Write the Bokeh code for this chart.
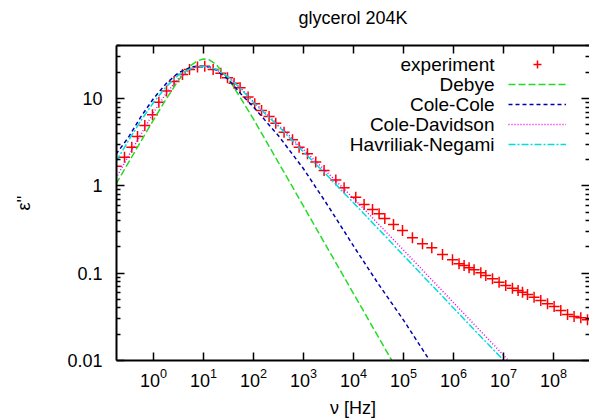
from bokeh.plotting import figure
from bokeh.models import (Range1d, LogAxis, FixedTicker, LogTickFormatter,
                          CustomJSTickFormatter, Legend, LegendItem, Label)
from bokeh.embed import file_html
from bokeh.resources import INLINE

FONT = "Liberation Sans"

# ---------------- data ----------------
exp_freq = [0.180, 0.263, 0.368, 0.479, 0.670, 0.955, 1.28, 1.82, 2.58, 3.80,
            5.25, 7.59, 10.6, 15.6, 22.2, 30.2, 40.9, 54.0, 78.0, 106,
            145, 205, 279, 409, 603, 817, 1200, 1760, 2580, 4430,
            6490, 11100, 16300, 24000, 32500, 42300, 63100, 95500, 151000, 240000,
            368000, 603000, 955000, 1.29e6, 1.63e6, 2.05e6, 2.58e6, 3.52e6, 4.43e6, 6.03e6,
            8.17e6, 1.11e7, 1.51e7, 1.96e7, 2.40e7, 3.02e7, 4.09e7, 5.57e7, 7.59e7, 1.03e8,
            1.40e8, 1.91e8, 2.58e8, 3.52e8, 4.79e8]
exp_eps = [1.68, 2.13, 2.77, 3.68, 4.92, 6.52, 9.09, 12.2, 15.7, 18.9,
           21.5, 22.9, 23.5, 21.5, 19.5, 17.3, 15.0, 13.3, 10.4, 8.71,
           7.30, 6.23, 5.22, 4.12, 3.37, 2.77, 2.33, 1.87, 1.50, 1.17,
           0.951, 0.742, 0.612, 0.537, 0.479, 0.423, 0.361, 0.309, 0.254, 0.217,
           0.196, 0.164, 0.1425, 0.128, 0.1227, 0.1154, 0.1095, 0.1011, 0.0942, 0.0863,
           0.0789, 0.0724, 0.0674, 0.0634, 0.0606, 0.0571, 0.0531, 0.0487, 0.0447, 0.0416,
           0.0374, 0.0337, 0.0319, 0.0309, 0.0293]

debye_freq = [0.178, 0.316, 0.562, 1.0, 1.78, 3.16, 5.62, 7.50, 10.0, 13.3,
              17.8, 31.6, 56.2, 100, 316, 1000, 3160, 1.0e4, 3.16e4, 1.0e5]
debye_eps = [1.05, 1.85, 3.25, 5.7, 9.8, 16.2, 24.0, 27.0, 28.4, 27.6,
             24.6, 16.8, 10.0, 5.8, 1.85, 0.585, 0.185, 0.0585, 0.0185, 0.00585]

cc_freq = [0.178, 0.316, 0.562, 1.0, 1.78, 3.16, 5.62, 7.50, 10.0, 13.3,
           17.8, 31.6, 56.2, 100, 316, 1000, 3160, 1.0e4, 3.16e4, 1.0e5,
           3.16e5, 5.62e5]
cc_eps = [2.3, 3.6, 6.2, 10.0, 14.8, 19.8, 22.9, 23.5, 23.5, 22.8,
          21.3, 16.5, 11.3, 8.0, 3.75, 1.57, 0.58, 0.205, 0.075, 0.029,
          0.0105, 0.0065]

cd_freq = [0.178, 0.316, 0.562, 1.0, 1.78, 3.16, 5.62, 7.50, 10.0, 13.3,
           17.8, 31.6, 56.2, 100, 316, 1000, 3160, 1.0e4, 3.16e4, 1.0e5,
           3.16e5, 1.0e6, 3.16e6, 1.0e7, 1.78e7]
cd_eps = [1.23, 2.2, 3.9, 6.9, 11.4, 17.0, 21.8, 23.0, 23.4, 22.9,
          21.6, 17.7, 13.1, 9.2, 4.95, 2.6, 1.38, 0.72, 0.365, 0.184,
          0.092, 0.046, 0.023, 0.0115, 0.0081]

hn_freq = [0.178, 0.316, 0.562, 1.0, 1.78, 3.16, 5.62, 7.50, 10.0, 13.3,
           17.8, 31.6, 56.2, 100, 316, 1000, 3160, 1.0e4, 3.16e4, 1.0e5,
           3.16e5, 1.0e6, 3.16e6, 1.0e7, 1.78e7]
hn_eps = [1.9, 3.3, 5.6, 9.0, 13.6, 18.6, 22.2, 23.2, 23.4, 22.8,
          21.6, 17.6, 12.9, 9.0, 4.8, 2.45, 1.27, 0.64, 0.32, 0.16,
          0.080, 0.040, 0.020, 0.0101, 0.0071]

series_names = ["experiment", "Debye", "Cole-Cole", "Cole-Davidson", "Havriliak-Negami"]
title_text = "glycerol 204K"

x_ticks = [1, 10, 100, 1e3, 1e4, 1e5, 1e6, 1e7, 1e8]
y_ticks = [0.01, 0.1, 1, 10]
y_minor = [m * d for d in (0.01, 0.1, 1, 10) for m in range(2, 10)]

# ---------------- figure ----------------
p = figure(width=589, height=420, x_axis_type="log", y_axis_type="log",
           x_range=Range1d(0.182, 5.25e8), y_range=Range1d(0.01, 40.5),
           output_backend="svg", toolbar_location=None, title=None,
           min_border_left=116, min_border_right=0,
           min_border_top=45, min_border_bottom=59)
p.outline_line_color = None
p.xgrid.visible = False
p.ygrid.visible = False
p.background_fill_color = "white"
p.border_fill_color = "white"


def style_axis(ax):
    ax.axis_line_color = "black"
    ax.axis_line_width = 2
    ax.major_tick_line_color = "black"
    ax.major_tick_line_width = 1.5
    ax.minor_tick_line_color = "black"
    ax.minor_tick_line_width = 1.5
    ax.major_tick_in = 8
    ax.major_tick_out = 0
    ax.minor_tick_in = 4
    ax.minor_tick_out = 0
    ax.major_label_text_font = FONT
    ax.major_label_text_font_size = "18px"
    ax.major_label_text_color = "black"
    ax.axis_label_text_font = FONT
    ax.axis_label_text_font_size = "18px"
    ax.axis_label_text_font_style = "normal"
    ax.axis_label_text_color = "black"


xb = p.xaxis[0]
style_axis(xb)
xb.ticker = FixedTicker(ticks=x_ticks, minor_ticks=[])
xb.formatter = LogTickFormatter()
xb.major_label_standoff = 7
xb.axis_label = "ν [Hz]"
xb.axis_label_standoff = 8

yl = p.yaxis[0]
style_axis(yl)
yl.ticker = FixedTicker(ticks=y_ticks, minor_ticks=y_minor)
yl.formatter = CustomJSTickFormatter(code="return String(Number(tick.toPrecision(2)));")
yl.major_label_standoff = 14
yl.axis_label = "ε''"
yl.axis_label_standoff = 30

# top axis: mirrored ticks, carries the chart title as its label
xt = LogAxis(ticker=FixedTicker(ticks=x_ticks, minor_ticks=[]),
             formatter=CustomJSTickFormatter(code="return '';"))
style_axis(xt)
xt.major_label_text_font_size = "0px"
xt.major_label_standoff = 0
xt.axis_label = title_text
xt.axis_label_standoff = 18
p.add_layout(xt, "above")

yr = LogAxis(ticker=FixedTicker(ticks=y_ticks, minor_ticks=y_minor),
             formatter=CustomJSTickFormatter(code="return '';"))
style_axis(yr)
yr.axis_line_color = None
yr.major_label_text_font_size = "0px"
yr.major_label_standoff = 0
p.add_layout(yr, "right")

# ---------------- series ----------------
r_exp = p.scatter(exp_freq, exp_eps, marker="cross", size=11,
                  line_color="#ff0000", line_width=1.5)
r_deb = p.line(debye_freq, debye_eps, line_color="#22dd22", line_width=1.5,
               line_dash="7 3")
r_cc = p.line(cc_freq, cc_eps, line_color="#0000b0", line_width=1.5,
              line_dash="4 3")
r_cd = p.line(cd_freq, cd_eps, line_color="#ee00ee", line_width=1.5,
              line_dash="1 2")
r_hn = p.line(hn_freq, hn_eps, line_color="#00dddd", line_width=1.5,
              line_dash="7 2 2 2")

renderers = [r_exp, r_deb, r_cc, r_cd, r_hn]

legend = Legend(items=[LegendItem(label=" ", renderers=[r]) for r in renderers],
                location=(392, 206), orientation="vertical",
                glyph_width=58, glyph_height=20, label_width=0, label_height=20,
                label_standoff=0, spacing=0, padding=0, margin=0,
                border_line_color=None, background_fill_alpha=0,
                label_text_font_size="1px")
p.add_layout(legend)

row_y = [296, 276, 256, 236, 216]
for name, yy in zip(series_names, row_y):
    p.add_layout(Label(x=378, y=yy, x_units="screen", y_units="screen",
                       text=name, text_align="right", text_baseline="middle",
                       text_font=FONT, text_font_size="19px", text_color="black"))

open("out.html", "w").write(file_html(p, INLINE))
